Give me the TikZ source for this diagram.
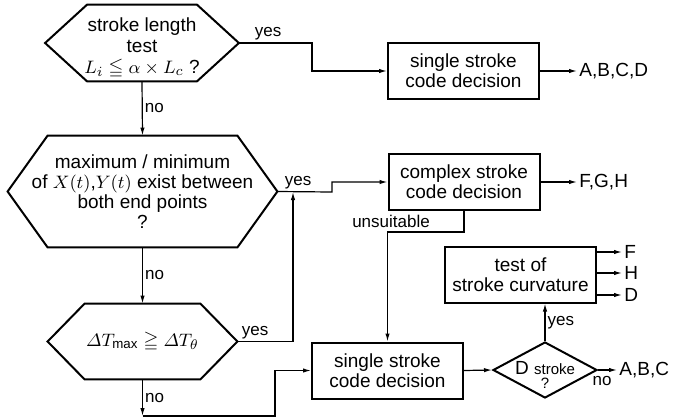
\documentclass[tikz,border=0pt]{standalone}
\usepackage{amsmath}
\usepackage{amssymb}
\usepackage{fontspec}
\setmainfont{Liberation Sans}
\usetikzlibrary{arrows.meta,positioning,calc,shapes.geometric}

% outline of a test node (elongated hexagon)
\newcommand{\hexline}[2]{%
  \draw[line width=1pt] (#1.west) -- ([xshift=#2]#1.north west) -- ([xshift=-#2]#1.north east)
    -- (#1.east) -- ([xshift=-#2]#1.south east) -- ([xshift=#2]#1.south west) -- cycle;}

\begin{document}
\begin{tikzpicture}[x=0.5pt, y=-0.5pt,
  every node/.style={font=\fontsize{9.5}{10}\selectfont},
  hexa/.style={inner sep=0pt, align=center},
  box/.style={draw, line width=1pt, minimum width=75.5pt, minimum height=28pt, align=center, inner sep=2pt},
  decision/.style={draw, line width=1pt, diamond, minimum width=52pt, minimum height=28pt,
    inner xsep=-6pt, inner ysep=-4pt, align=center},
  arr/.style={line width=0.6pt, -{Latex[length=4pt,width=2.2pt]}},
  lab/.style={font=\fontsize{8.5}{9}\selectfont, inner sep=1pt},
  result/.style={anchor=west, inner sep=1pt}]
  \useasboundingbox (0,0) rectangle (678,418);

  % tests
  \node[hexa, minimum width=96.5pt, minimum height=38pt] (len) at (142,43)
    {\rule{0pt}{12pt}stroke length\\[0.5pt]test\\[0.5pt]$L_i \leqq \alpha \times L_c$ ?};
  \node[hexa, minimum width=134.5pt, minimum height=55.5pt] (ext) at (142.5,191.5)
    {maximum / minimum\\of $X(t)$,$Y(t)$ exist between\\both end points\\?};
  \node[hexa, minimum width=94.5pt, minimum height=37.5pt] (dT) at (142.5,341.5)
    {$\varDelta T_{\mathrm{max}} \geqq \varDelta T_{\theta}$};
  \hexline{len}{21pt}
  \hexline{ext}{20pt}
  \hexline{dT}{18.5pt}

  % decisions
  \node[box] (single1) at (463.5,71) {single stroke\\code decision};
  \node[box] (complex) at (464,182) {complex stroke\\code decision};
  \node[box] (curv) at (520.5,274.5) {test of\\stroke curvature};
  \node[box] (single2) at (387.5,370.5) {single stroke\\code decision};
  \node[decision] (dstroke) at (545,370)
    {\rule{0pt}{11pt}D {\fontsize{7.5}{8}\selectfont stroke}\\[-3pt]{\fontsize{7.5}{8}\selectfont ?}};

  % results
  \node[result] (abcd) at (577,71) {A,B,C,D};
  \node[result] (fgh) at (577,182) {F,G,H};
  \node[result] (abc) at (617,370) {A,B,C};
  \node[result] (outF) at (622,252) {F};
  \node[result] (outH) at (622,273) {H};
  \node[result] (outD) at (622,295) {D};
  \node[lab] (unsuit) at (391,221) {unsuitable};

  % bends
  \coordinate (b1) at (312,43);
  \coordinate (b2) at (332,192);
  \coordinate (b3) at (293,192);
  \coordinate (b4) at (142.5,416);
  \coordinate (b5) at (275,416);
  \coordinate (b6) at (464,232);

  \draw[arr] (len.east) -- node[lab, pos=0.4, above]{yes} (b1) |- (single1.west);
  \draw[arr] (len.south) -- node[lab, right]{no} (ext.north);
  \draw[arr] (ext.east) -- node[lab, pos=0.38, above]{yes} (b2) |- (complex.west);
  \draw[arr] (ext.south) -- node[lab, right]{no} (dT.north);
  \draw[arr] (dT.east) -| node[lab, pos=0.16, above]{yes} (b3);
  \draw[arr] (dT.south) -- node[lab, right]{no} (b4);
  \draw[arr] (b4) -- (b5) |- (single2.west);
  \draw[arr] (complex.south) -- (b6) -| (single2.north);
  \draw[arr] (single2.east) -- (dstroke.west);
  \draw[arr] (dstroke.north) -- node[lab, right]{yes} (dstroke.north |- curv.south);
  \draw[arr] (dstroke.east) node[lab, below=2pt, xshift=2pt]{no} -- (abc.west);

  % outputs
  \draw[arr] (single1.east) -- (abcd.west);
  \draw[arr] (complex.east) -- (fgh.west);
  \foreach \o in {outF,outH,outD}
    \draw[arr] (curv.east |- \o.west) -- (\o.west);
\end{tikzpicture}
\end{document}
